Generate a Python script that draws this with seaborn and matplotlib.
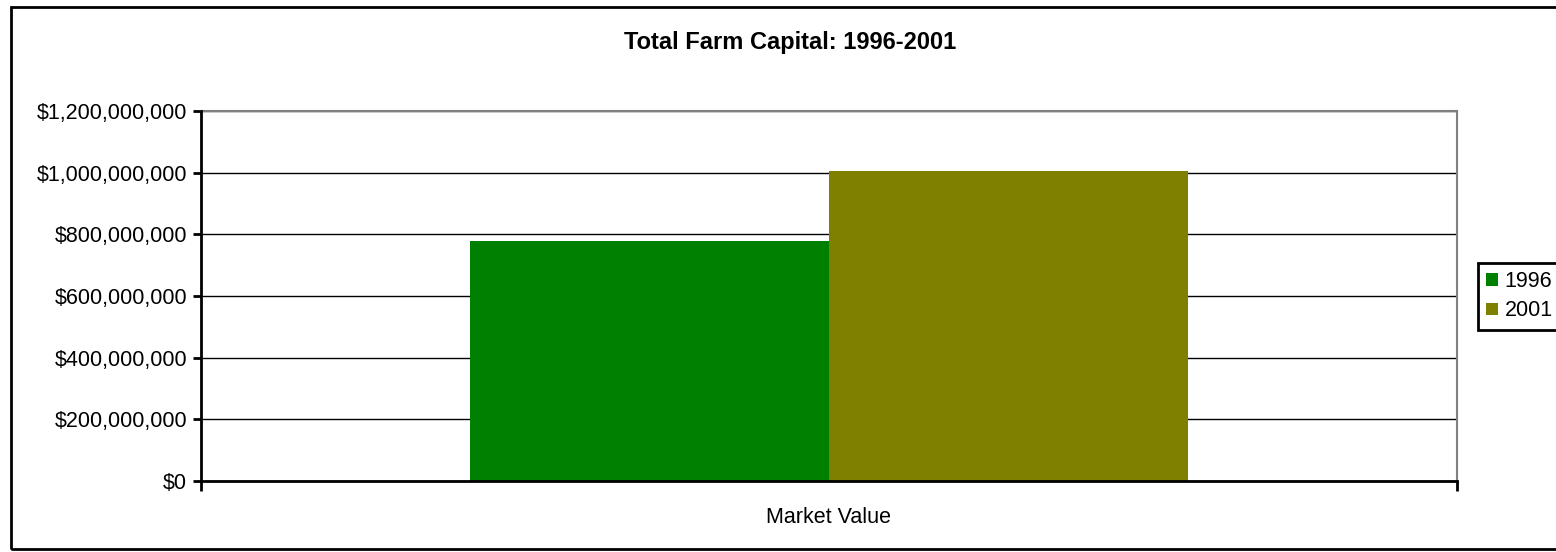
import matplotlib
matplotlib.use("Agg")
import matplotlib.pyplot as plt
import matplotlib.ticker as mticker
from matplotlib.patches import Rectangle
import seaborn as sns
import pandas as pd

categories = ["Market Value"]
years = ["1996", "2001"]
values_1996 = [778_000_000]
values_2001 = [1_005_000_000]
colors = ["#008000", "#808000"]
y_ticks = [0, 200_000_000, 400_000_000, 600_000_000, 800_000_000, 1_000_000_000, 1_200_000_000]

df = pd.DataFrame({
    "category": categories * 2,
    "year": [years[0]] * len(categories) + [years[1]] * len(categories),
    "value": values_1996 + values_2001,
})

sns.set_theme(style="white")
plt.rcParams["font.family"] = ["Liberation Sans", "DejaVu Sans"]

W, H = 1556, 552
fig = plt.figure(figsize=(W / 100, H / 100), dpi=100)
fig.patch.set_facecolor("white")

# outer border
fig.add_artist(Rectangle((11 / W, 1 - 549 / H), (W + 20 - 11) / W, (549 - 7) / H,
                         transform=fig.transFigure, fill=False, edgecolor="black",
                         linewidth=2, clip_on=False))

ax = fig.add_axes([201 / W, 1 - 481 / H, (1457 - 201) / W, (481 - 111) / H])
sns.barplot(data=df, x="category", y="value", hue="year", palette=colors,
            width=0.572, saturation=1, ax=ax, legend=True, errorbar=None,
            linewidth=0, edgecolor="none")

ax.set_xlim(-0.5, 0.5)
ax.set_ylim(0, 1_200_000_000)
ax.set_yticks(y_ticks)
ax.yaxis.set_major_formatter(mticker.FuncFormatter(lambda v, p: f"${int(v):,}"))
ax.grid(axis="y", color="black", linewidth=1)
ax.set_axisbelow(True)
ax.set_xlabel("")
ax.set_ylabel("")

for s in ["top", "right"]:
    ax.spines[s].set_color("#808080")
    ax.spines[s].set_linewidth(1.5)
for s in ["left", "bottom"]:
    ax.spines[s].set_color("black")
    ax.spines[s].set_linewidth(2)
    ax.spines[s].set_zorder(5)

ax.tick_params(axis="y", which="major", left=True, length=6, width=2, color="black",
               labelsize=15.5, labelcolor="black", pad=4, direction="out")
ax.tick_params(axis="x", which="major", bottom=True, length=0, labelsize=15.5,
               labelcolor="black", pad=19)
ax.set_xticks([-0.5, 0.5], minor=True)
ax.tick_params(axis="x", which="minor", bottom=True, length=7, width=2, color="black",
               direction="out")

fig.text(790 / W, 1 - 42 / H, "Total Farm Capital: 1996-2001", ha="center", va="center",
         fontsize=17, fontweight="bold", color="black")

handles, labels = ax.get_legend_handles_labels()
ax.legend_.remove()
leg = fig.legend(handles, labels, loc="upper left",
                 bbox_to_anchor=(1478 / W, 1 - 263 / H), frameon=True, fancybox=False,
                 framealpha=1, fontsize=15.5, handlelength=0.55, handleheight=0.5,
                 handletextpad=0.3, borderpad=0.38, labelspacing=0.38, borderaxespad=0)
leg.get_frame().set_edgecolor("black")
leg.get_frame().set_linewidth(2)
for t in leg.get_texts():
    t.set_color("black")

fig.savefig("out.png", dpi=100, facecolor="white")
